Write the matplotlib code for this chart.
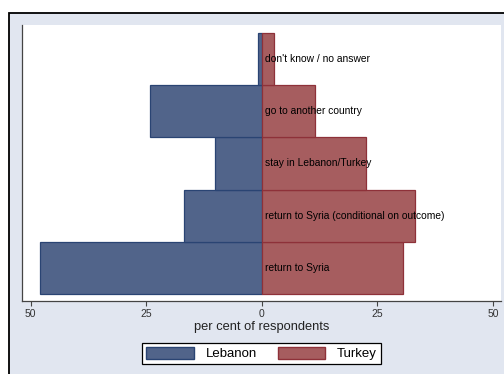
import matplotlib.pyplot as plt
from matplotlib.patches import Rectangle, Patch

plt.rcParams['font.family'] = ['Liberation Sans', 'DejaVu Sans']

# answers, bottom to top
answers = ["return to Syria",
           "return to Syria (conditional on outcome)",
           "stay in Lebanon/Turkey",
           "go to another country",
           "don't know / no answer"]
lebanon = [48.0, 16.8, 10.0, 24.2, 0.7]
turkey = [30.6, 33.2, 22.5, 11.5, 2.6]

leb_fill, leb_edge = '#51648a', '#2a4473'
tur_fill, tur_edge = '#a65d5f', '#8e3139'

W, H = 504, 374
fig = plt.figure(figsize=(W / 100, H / 100), dpi=100)
fig.patch.set_facecolor('white')

# graph region with the black frame
fig.patches.append(Rectangle((9 / W, -0.02), 1.0, (H - 13) / H + 0.02,
                             transform=fig.transFigure, facecolor='#e1e6f0',
                             edgecolor='black', lw=1.3, zorder=-1))

ax = fig.add_axes([22 / W, (H - 301) / H, (501 - 22) / W, (301 - 25) / H])
ax.set_facecolor('white')

pos = list(range(len(answers)))
ax.barh(pos, [-v for v in lebanon], height=1.0, color=leb_fill,
        edgecolor=leb_edge, lw=0.9)
ax.barh(pos, turkey, height=1.0, color=tur_fill,
        edgecolor=tur_edge, lw=0.9)

for p, a in zip(pos, answers):
    ax.text(0.7, p, a, ha='left', va='center', fontsize=7.35, color='black')

ax.set_xlim(-51.85, 51.76)
ax.set_ylim(-0.635, 4.654)
ax.set_xticks([-50, -25, 0, 25, 50])
ax.set_xticklabels(['50', '25', '0', '25', '50'])
ax.set_yticks([])
ax.tick_params(axis='x', direction='out', length=3.5, width=0.8,
               color='#444444', labelsize=7.5, labelcolor='#333333', pad=2)
for s in ['top', 'right']:
    ax.spines[s].set_visible(False)
ax.spines['left'].set_color('#444444')
ax.spines['bottom'].set_color('#444444')
ax.spines['left'].set_linewidth(0.9)
ax.spines['bottom'].set_linewidth(0.9)
ax.set_xlabel('per cent of respondents', fontsize=9.3, color='#222222',
              labelpad=2)

handles = [Patch(facecolor=leb_fill, edgecolor=leb_edge, label='Lebanon'),
           Patch(facecolor=tur_fill, edgecolor=tur_edge, label='Turkey')]
leg = fig.legend(handles=handles, loc='center',
                 bbox_to_anchor=(261.5 / W, 1 - 353.5 / H), ncol=2,
                 fontsize=9.5, handlelength=3.6, handleheight=1.0,
                 handletextpad=0.9, columnspacing=1.6, fancybox=False,
                 framealpha=1, borderpad=0.3, borderaxespad=0)
leg.get_frame().set_edgecolor('black')
leg.get_frame().set_linewidth(0.9)

fig.savefig('out.png', dpi=100)
